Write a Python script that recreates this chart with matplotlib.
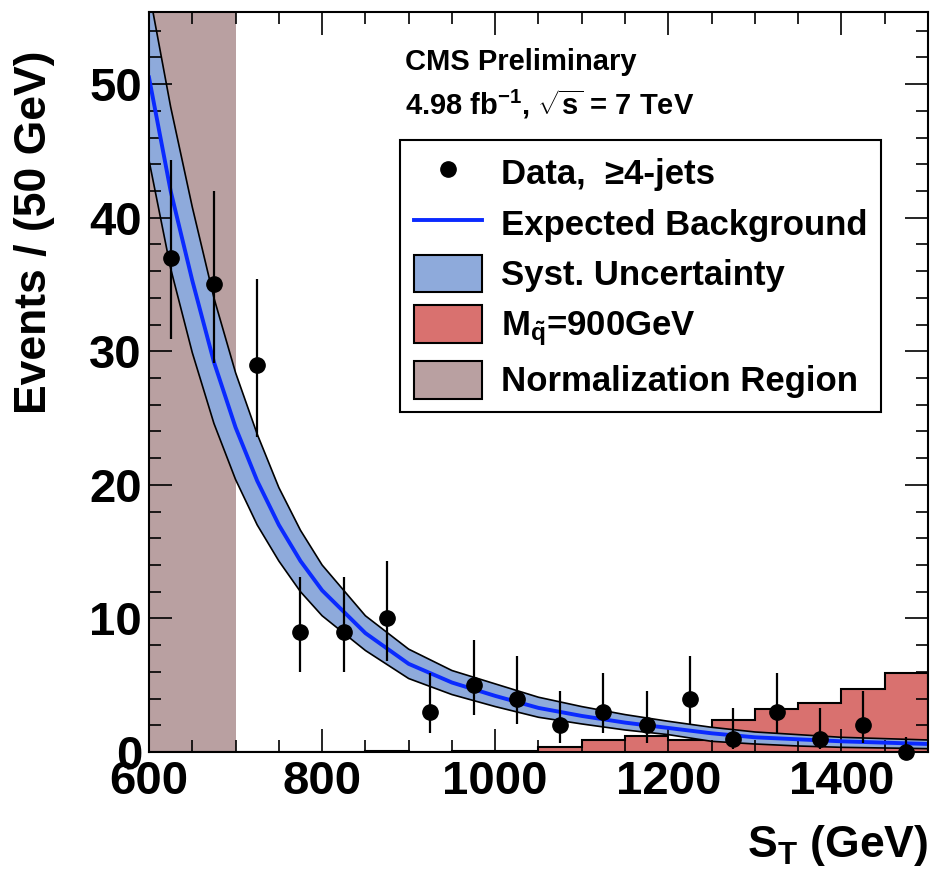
import matplotlib
matplotlib.use("Agg")
import matplotlib.pyplot as plt
from matplotlib.lines import Line2D
from matplotlib.patches import Patch
from matplotlib.ticker import MultipleLocator

plt.rcParams['font.family'] = ['Liberation Sans', 'DejaVu Sans']
plt.rcParams['font.weight'] = 'bold'
plt.rcParams['mathtext.fontset'] = 'custom'
plt.rcParams['mathtext.rm'] = 'Liberation Sans:bold'
plt.rcParams['mathtext.bf'] = 'Liberation Sans:bold'
plt.rcParams['mathtext.it'] = 'Liberation Sans:bold'
plt.rcParams['mathtext.default'] = 'bf'

# data: events per 50 GeV bin
bin_centers = [625, 675, 725, 775, 825, 875, 925, 975, 1025, 1075,
               1125, 1175, 1225, 1275, 1325, 1375, 1425, 1475]
data_counts = [37, 35, 29, 9, 9, 10, 3, 5, 4, 2, 3, 2, 4, 1, 3, 1, 2, 0]
err_lo = [6.1, 5.9, 5.4, 3.0, 3.0, 3.2, 1.6, 2.2, 1.9, 1.3, 1.6, 1.3, 1.9, 0.8, 1.6, 0.8, 1.3, 0.0]
err_hi = [7.3, 7.0, 6.4, 4.1, 4.1, 4.3, 2.9, 3.4, 3.2, 2.6, 2.9, 2.6, 3.2, 2.3, 2.9, 2.3, 2.6, 1.1]

# signal histogram (M_squark = 900 GeV)
sig_edges = [600, 650, 700, 750, 800, 850, 900, 950, 1000, 1050,
             1100, 1150, 1200, 1250, 1300, 1350, 1400, 1450, 1500]
sig_counts = [0, 0, 0, 0, 0, 0.08, 0, 0.08, 0.08, 0.35,
              0.9, 1.2, 0.9, 2.4, 3.2, 3.7, 4.7, 5.9]

# expected background with systematic band
bkg_x = [600, 625, 650, 675, 700, 725, 750, 775, 800, 850, 900, 950,
         1000, 1050, 1100, 1150, 1200, 1250, 1300, 1350, 1400, 1450, 1500]
bkg_mid = [50.5, 42.0, 35.3, 29.2, 24.3, 20.3, 17.0, 14.3, 12.1, 8.9, 6.6, 5.2,
           4.2, 3.3, 2.7, 2.2, 1.8, 1.4, 1.1, 0.95, 0.8, 0.7, 0.6]
bkg_hi = [57.0, 48.3, 40.8, 34.0, 28.4, 23.8, 19.8, 16.6, 14.0, 10.2, 7.7, 6.1,
          5.1, 4.1, 3.4, 2.8, 2.3, 1.85, 1.5, 1.3, 1.1, 1.0, 0.9]
bkg_lo = [44.3, 36.2, 29.9, 24.6, 20.4, 17.0, 14.3, 12.0, 10.2, 7.6, 5.5, 4.3,
          3.4, 2.6, 2.1, 1.65, 1.3, 0.8, 0.6, 0.45, 0.35, 0.3, 0.25]

norm_region = [600, 700]

norm_color = '#b9a0a1'
sig_color = '#d9716f'
band_color = '#8eaadb'
line_color = '#0a2aff'

fig = plt.figure(figsize=(9.32, 8.81), dpi=100)
ax = fig.add_axes([149 / 932, 129 / 881, 779 / 932, 740 / 881])

ax.axvspan(norm_region[0], norm_region[1], color=norm_color, lw=0, zorder=0.5)
ax.stairs(sig_counts, sig_edges, fill=True, facecolor=sig_color,
          edgecolor='black', lw=1.5, zorder=1)
ax.fill_between(bkg_x, bkg_lo, bkg_hi, facecolor=band_color, edgecolor='none', zorder=1.5)
ax.plot(bkg_x, bkg_hi, color='black', lw=1.2, zorder=1.6)
ax.plot(bkg_x, bkg_lo, color='black', lw=1.2, zorder=1.6)
ax.plot(bkg_x, bkg_mid, color=line_color, lw=2.8, zorder=1.7)
ax.errorbar(bin_centers, data_counts, yerr=[err_lo, err_hi], fmt='o', color='black',
            ms=11, elinewidth=1.6, capsize=0, zorder=5, clip_on=False)

ax.set_xlim(600, 1500)
ax.set_ylim(0, 55.4)
ax.set_xticks([600, 800, 1000, 1200, 1400])
ax.xaxis.set_minor_locator(MultipleLocator(50))
ax.set_yticks([0, 10, 20, 30, 40, 50])
ax.yaxis.set_minor_locator(MultipleLocator(2))
ax.tick_params(which='both', direction='in', top=True, right=True, width=1.2)
ax.tick_params(which='major', length=16.5, labelsize=34)
ax.tick_params(axis='x', which='major', pad=6)
ax.tick_params(axis='y', which='major', pad=5)
ax.tick_params(which='minor', length=8.5)
for s in ax.spines.values():
    s.set_linewidth(1.5)

fig.text(35 / 932, 1 - 232 / 881, 'Events / (50 GeV)', rotation=90,
         fontsize=32, ha='center', va='center')
fig.text(928 / 932, 1 - 845 / 881, r'S$_{\mathbf{T}}$ (GeV)',
         fontsize=32, ha='right', va='center')

fig.text(405 / 932, 1 - 62 / 881, 'CMS Preliminary', fontsize=21, ha='left', va='center')
fig.text(405 / 932, 1 - 104 / 881, r'4.98 fb$^{\mathbf{-1}}$, $\sqrt{\mathbf{s}}$ = 7 TeV',
         fontsize=21, ha='left', va='center')

handles = [
    Line2D([], [], marker='o', color='black', ls='none', ms=11),
    Line2D([], [], color=line_color, lw=2.8),
    Patch(facecolor=band_color, edgecolor='black', lw=1.5),
    Patch(facecolor=sig_color, edgecolor='black', lw=1.5),
    Patch(facecolor=norm_color, edgecolor='black', lw=1.5),
]
labels = ['Data,  \u22654-jets', 'Expected Background', 'Syst. Uncertainty',
          r'M$_{\tilde{\mathbf{q}}}$=900GeV', 'Normalization Region']
leg = fig.legend(handles, labels, loc='upper left',
                 bbox_to_anchor=(400 / 932, 1 - 140 / 881), fontsize=25,
                 frameon=True, fancybox=False, edgecolor='black', framealpha=1,
                 handlelength=1.95, handleheight=1.3, handletextpad=0.55,
                 labelspacing=0.36, borderpad=0.4, borderaxespad=0)
leg.get_frame().set_linewidth(1.5)

fig.savefig('out.png', dpi=100)
